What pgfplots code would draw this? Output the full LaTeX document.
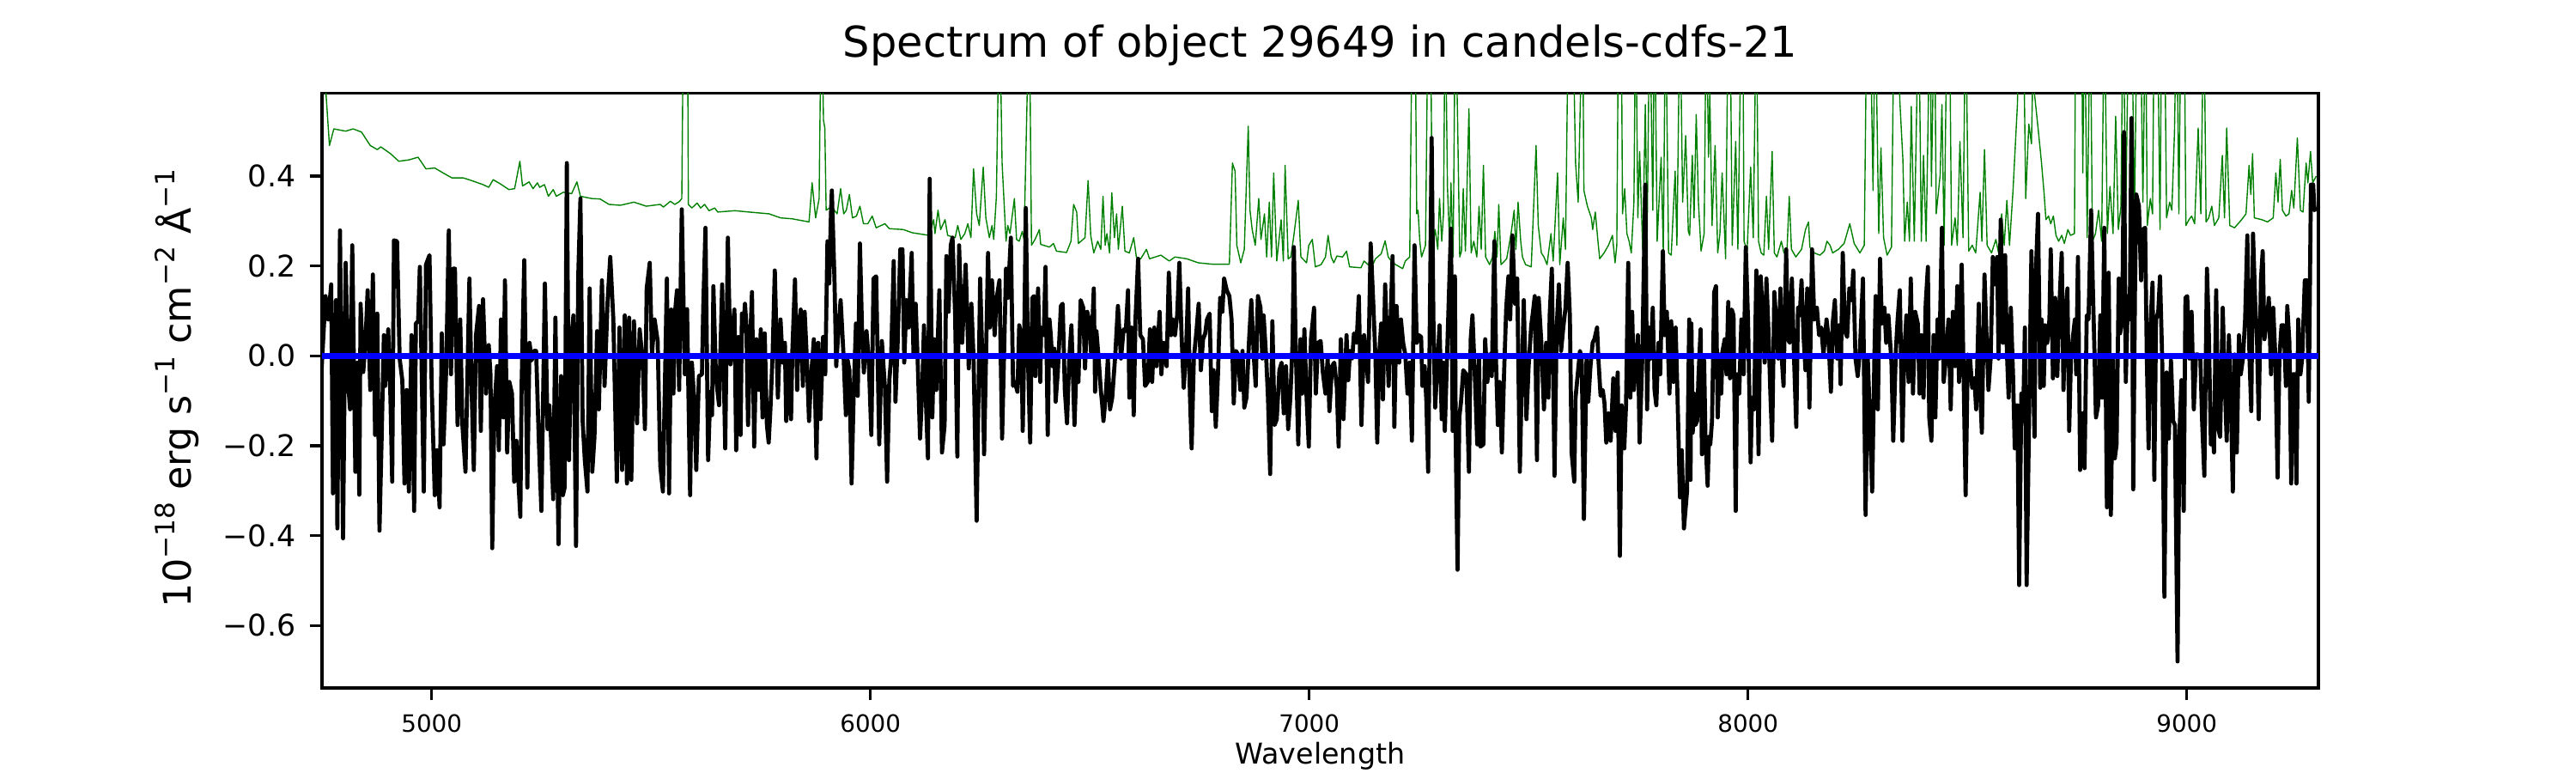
\documentclass[border=0pt]{standalone}
\usepackage{fontspec}
\setmainfont{DejaVu Sans}
\usepackage{pgfplots}
\pgfplotsset{compat=1.18}
\definecolor{mplgreen}{rgb}{0,0.5,0}
\newcommand\sups[1]{\raisebox{0.42em}{\fontsize{11.2}{12}\selectfont #1}}
\begin{document}
\begin{tikzpicture}
\path[use as bounding box] (-135pt,-35.64pt) rectangle (945pt,288.36pt);
\begin{axis}[
  at={(0,0)}, anchor=south west,
  scale only axis, width=837pt, height=249.4pt,
  xmin=4750, xmax=9300, ymin=-0.739, ymax=0.585,
  axis line style={line width=1.2pt},
  tick align=outside, xtick pos=left, ytick pos=left,
  major tick length=5.2pt,
  every tick/.style={black, line width=1.2pt},
  xtick={5000,6000,7000,8000,9000},
  xticklabels={5000,6000,7000,8000,9000},
  ytick={-0.6,-0.4,-0.2,0,0.2,0.4},
  yticklabels={−0.6,−0.4,−0.2,0.0,0.2,0.4},
  xticklabel style={font=\fontsize{10}{12}\selectfont, anchor=base, inner sep=0pt, yshift=-13.3pt},
  yticklabel style={font=\fontsize{12.5}{14}\selectfont, anchor=east, inner sep=0pt, xshift=-5.7pt},
  title={Spectrum of object 29649 in candels-cdfs-21},
  title style={font=\fontsize{17.8}{20}\selectfont, at={(axis description cs:0.5,1.0359)}, anchor=base, inner sep=0pt},
  xlabel={Wavelength},
  xlabel style={font=\fontsize{12}{14}\selectfont, at={(axis description cs:0.5,-0.1279)}, anchor=base, inner sep=0pt},
  ylabel={10\sups{−18} erg s\sups{−1} cm\sups{−2} Å\sups{−1}},
  ylabel style={font=\fontsize{16}{18}\selectfont, at={(axis description cs:-0.0658,0.504)}, anchor=base, inner sep=0pt},
  clip=true,
]
% green: error / sky spectrum
\addplot[mplgreen, line width=0.5pt, line join=round] coordinates {
(4750,0.65)(4758,0.60)(4767,0.468)(4777,0.505)(4804,0.500)(4821,0.505)(4840,0.498)(4860,0.468)(4876,0.459)(4884,0.465)(4906,0.450)(4925,0.433)(4948,0.436)(4969,0.442)(4987,0.416)(5007,0.418)(5026,0.407)(5046,0.396)(5072,0.396)(5091,0.390)(5117,0.381)(5130,0.375)(5140,0.392)(5156,0.383)(5176,0.370)(5189,0.372)(5201,0.433)(5207,0.378)(5222,0.387)(5231,0.372)(5241,0.385)(5246,0.375)(5257,0.381)(5266,0.355)(5277,0.370)(5284,0.355)(5300,0.364)(5319,0.361)(5331,0.387)(5339,0.355)(5365,0.350)(5384,0.349)(5404,0.337)(5430,0.335)(5461,0.342)(5489,0.333)(5521,0.337)
(5528,0.331)(5544,0.344)(5554,0.337)(5564,0.343)(5570,0.350)(5574,0.8)(5583,0.8)(5585,0.337)(5593,0.329)(5605,0.340)(5613,0.329)(5622,0.337)(5632,0.323)(5645,0.329)(5652,0.320)(5691,0.323)(5723,0.320)(5769,0.316)(5795,0.307)(5821,0.305)(5860,0.298)(5867,0.385)(5875,0.307)(5883,0.350)(5888,0.8)(5893,0.524)(5896,0.507)(5899,0.324)(5907,0.329)(5916,0.326)(5924,0.316)(5932,0.372)(5939,0.316)(5945,0.324)(5952,0.359)(5959,0.307)(5968,0.311)(5976,0.333)(5984,0.294)(5994,0.294)(6004,0.311)(6013,0.285)(6033,0.294)(6043,0.283)(6075,0.281)(6095,0.274)(6121,0.270)(6134,0.268)(6144,0.303)(6147,0.272)(6154,0.324)(6160,0.281)(6170,0.303)(6176,0.268)(6193,0.263)(6199,0.290)(6206,0.259)(6215,0.272)(6222,0.294)(6229,0.263)(6235,0.416)(6242,0.316)(6248,0.290)(6257,0.420)(6263,0.307)(6271,0.263)(6277,0.290)(6281,0.259)(6287,0.355)(6294,0.8)(6300,0.429)
(6309,0.255)(6313,0.290)(6318,0.272)(6328,0.350)(6333,0.259)(6339,0.255)(6346,0.277)(6350,0.259)(6362,0.8)(6367,0.246)(6375,0.259)(6385,0.281)(6388,0.248)(6408,0.242)(6417,0.250)(6424,0.233)(6447,0.230)(6457,0.255)(6463,0.337)(6470,0.320)(6474,0.250)(6489,0.263)(6496,0.390)(6502,0.268)(6509,0.229)(6518,0.255)(6525,0.237)(6530,0.355)(6535,0.246)(6539,0.272)(6545,0.229)(6550,0.363)(6556,0.263)(6561,0.316)(6565,0.237)(6574,0.333)(6580,0.233)(6590,0.229)(6600,0.263)(6606,0.220)(6616,0.216)(6629,0.237)(6636,0.216)(6662,0.224)(6681,0.211)(6694,0.220)(6721,0.216)(6747,0.207)(6779,0.204)(6818,0.204)(6825,0.429)(6831,0.411)(6835,0.246)(6844,0.207)(6852,0.237)(6861,0.511)(6865,0.324)(6870,0.281)(6877,0.246)(6885,0.350)(6890,0.259)(6898,0.316)(6903,0.220)(6909,0.342)(6914,0.220)(6919,0.407)(6926,0.211)(6936,0.303)(6941,0.211)(6945,0.424)(6952,0.216)(6958,0.220)(6965,0.268)(6975,0.346)(6981,0.220)(6994,0.207)(6999,0.246)(7007,0.259)(7014,0.198)(7027,0.203)(7037,0.220)(7043,0.268)(7050,0.220)(7056,0.207)(7063,0.222)(7076,0.220)(7085,0.233)
(7092,0.198)(7118,0.196)(7125,0.211)(7134,0.203)(7144,0.201)(7151,0.216)(7164,0.227)(7173,0.256)(7180,0.220)(7190,0.207)(7213,0.194)(7219,0.211)(7229,0.220)(7235,0.8)(7241,0.8)(7245,0.316)(7248,0.324)(7252,0.255)(7256,0.220)(7265,0.246)(7271,0.8)(7276,0.8)(7281,0.246)(7287,0.281)(7293,0.237)(7297,0.350)(7302,0.255)(7306,0.316)(7310,0.8)(7315,0.377)(7320,0.246)(7323,0.385)(7328,0.220)(7333,0.8)(7338,0.533)(7343,0.220)(7347,0.233)(7351,0.372)(7356,0.233)(7364,0.550)(7369,0.229)(7375,0.255)(7382,0.220)(7387,0.333)(7392,0.237)(7397,0.424)(7402,0.220)(7411,0.203)(7418,0.220)(7423,0.277)(7428,0.220)(7432,0.337)(7437,0.203)(7450,0.216)(7460,0.272)(7467,0.324)(7471,0.237)(7476,0.342)(7482,0.255)(7486,0.220)(7493,0.203)(7506,0.198)(7517,0.468)(7522,0.290)(7529,0.229)(7535,0.220)(7542,0.203)(7551,0.272)(7556,0.211)(7566,0.407)(7571,0.203)(7579,0.307)(7584,0.237)(7591,0.8)(7600,0.8)(7607,0.429)(7613,0.342)(7623,0.8)(7626,0.368)(7634,0.333)(7643,0.307)(7646,0.281)(7652,0.320)(7658,0.255)(7662,0.216)(7672,0.229)(7682,0.246)(7691,0.268)(7697,0.207)(7701,0.246)(7705,0.8)(7711,0.8)(7714,0.316)(7719,0.372)(7724,0.272)(7729,0.255)(7734,0.229)(7740,0.342)(7744,0.8)(7749,0.307)(7753,0.455)(7760,0.237)(7766,0.559)(7770,0.255)(7776,0.8)(7783,0.324)(7787,0.8)(7793,0.255)(7802,0.442)(7807,0.229)(7812,0.8)(7819,0.229)(7825,0.224)(7834,0.411)(7838,0.246)(7845,0.8)(7851,0.342)(7858,0.490)(7864,0.277)
(7867,0.268)(7873,0.446)(7877,0.307)(7882,0.537)(7887,0.342)(7893,0.233)(7900,0.272)(7905,0.8)(7910,0.442)(7913,0.585)(7918,0.290)(7925,0.468)(7931,0.229)(7936,0.272)(7941,0.407)(7949,0.216)(7955,0.8)(7959,0.8)(7964,0.246)(7972,0.477)(7977,0.237)(7985,0.8)(7988,0.8)(7991,0.255)(7998,0.233)(8006,0.420)(8012,0.263)(8019,0.8)(8024,0.255)(8030,0.229)(8036,0.224)(8042,0.355)(8047,0.237)(8055,0.455)(8060,0.229)(8066,0.220)(8076,0.255)(8082,0.229)(8089,0.237)(8094,0.355)(8099,0.237)(8109,0.220)(8122,0.237)(8131,0.281)(8138,0.298)(8141,0.242)(8151,0.229)(8164,0.224)(8174,0.233)(8180,0.255)(8187,0.246)(8193,0.229)(8206,0.237)(8219,0.250)(8232,0.294)(8242,0.250)(8255,0.229)(8265,0.246)(8271,0.8)(8278,0.8)(8285,0.368)(8290,0.8)(8298,0.272)(8303,0.463)(8309,0.263)(8317,0.224)(8327,0.242)(8333,0.8)(8342,0.8)(8346,0.568)(8353,0.437)(8357,0.255)(8363,0.342)(8368,0.255)(8372,0.555)(8379,0.255)(8389,0.8)(8395,0.255)(8400,0.446)(8406,0.255)(8415,0.8)(8418,0.377)(8425,0.8)(8429,0.316)(8438,0.403)(8442,0.559)(8447,0.246)(8454,0.8)(8459,0.8)(8464,0.246)(8472,0.307)(8477,0.246)(8483,0.477)(8490,0.263)(8496,0.8)(8503,0.233)(8511,0.246)(8519,0.229)(8529,0.364)(8533,0.255)(8539,0.459)(8545,0.246)(8555,0.229)(8565,0.259)(8571,0.229)(8578,0.316)(8584,0.246)(8590,0.346)(8596,0.246)(8604,0.368)(8614,0.559)(8620,0.8)(8627,0.8)(8633,0.350)(8640,0.516)(8646,0.472)
(8649,0.62)(8662,0.498)(8669,0.429)(8675,0.359)(8679,0.303)(8685,0.311)(8690,0.294)(8696,0.311)(8702,0.268)(8708,0.255)(8715,0.268)(8721,0.250)(8729,0.281)(8735,0.268)(8744,0.272)(8747,0.8)(8754,0.8)(8760,0.8)(8763,0.407)(8767,0.8)(8773,0.263)(8780,0.8)(8785,0.255)(8792,0.272)(8799,0.324)(8806,0.255)(8812,0.8)(8819,0.272)(8825,0.377)(8832,0.272)(8838,0.533)(8844,0.281)(8850,0.333)(8855,0.8)(8861,0.316)(8868,0.8)(8874,0.8)(8881,0.316)(8887,0.8)(8894,0.8)(8900,0.342)(8906,0.8)(8910,0.290)(8917,0.350)(8922,0.316)(8926,0.8)(8933,0.8)(8939,0.281)(8943,0.8)(8949,0.8)(8954,0.307)(8961,0.342)(8966,0.324)(8972,0.498)(8977,0.8)(8982,0.316)(8987,0.8)(8994,0.8)(8998,0.290)(9005,0.303)(9011,0.311)(9018,0.294)(9026,0.507)(9032,0.316)(9039,0.8)(9044,0.298)(9050,0.307)(9057,0.333)(9063,0.290)(9073,0.307)(9081,0.446)(9086,0.307)(9091,0.507)(9098,0.290)(9109,0.285)(9125,0.303)(9135,0.316)(9142,0.424)(9146,0.359)(9150,0.450)(9154,0.307)(9171,0.303)(9184,0.298)(9197,0.307)(9203,0.407)(9208,0.342)(9213,0.437)(9218,0.324)(9226,0.311)(9233,0.316)(9239,0.368)(9244,0.329)(9252,0.485)(9259,0.324)(9265,0.320)(9272,0.429)(9276,0.385)(9282,0.455)(9287,0.385)(9295,0.400)
};
% black: observed spectrum
\addplot[black, line width=1.7pt, line join=round] coordinates {
(4749,-0.032)(4758,0.133)(4764,0.081)(4771,0.159)(4775,-0.306)(4782,0.124)(4785,-0.384)(4791,0.279)(4798,-0.406)(4804,0.207)(4810,-0.067)(4814,-0.119)(4819,0.246)(4826,-0.258)(4831,-0.015)(4835,-0.309)(4838,0.116)(4844,-0.036)(4849,0.029)(4854,0.146)(4860,-0.076)(4866,0.181)(4871,-0.176)(4876,0.094)(4881,-0.389)(4886,-0.180)(4891,0.046)(4894,-0.067)(4901,0.059)(4906,-0.093)(4910,-0.280)(4914,0.257)(4921,0.255)(4927,-0.006)(4933,-0.054)(4938,-0.284)(4943,-0.076)(4948,-0.302)(4954,0.046)(4960,-0.345)(4964,0.072)(4969,0.077)(4973,0.198)(4977,-0.023)(4982,-0.302)(4987,0.203)(4995,0.224)(5000,-0.067)(5007,-0.310)(5012,-0.210)(5018,-0.337)(5023,0.050)(5027,-0.197)(5033,-0.032)(5039,0.279)(5044,-0.041)(5049,0.194)(5053,0.194)(5059,-0.154)(5065,0.081)(5070,-0.154)(5077,-0.258)(5086,0.172)(5091,-0.076)(5096,-0.254)(5101,0.046)(5108,0.111)(5112,-0.167)(5117,0.126)(5124,-0.084)(5130,0.024)(5134,-0.041)(5138,-0.428)(5143,-0.115)(5149,-0.023)(5153,-0.210)(5158,0.081)(5163,-0.137)(5167,0.168)(5172,-0.215)(5177,-0.058)(5183,-0.084)(5188,-0.280)(5193,-0.189)(5197,-0.267)(5202,-0.358)(5205,-0.063)(5211,0.213)(5218,-0.293)(5223,0.029)(5228,-0.010)(5233,0.011)(5238,0.011)(5244,-0.184)(5250,-0.345)(5254,-0.089)(5258,0.161)(5264,-0.163)(5268,-0.110)(5272,-0.184)(5277,-0.319)(5282,0.085)(5289,-0.419)(5295,-0.045)(5299,-0.310)(5303,-0.293)(5308,0.429)(5313,-0.232)(5318,0.037)(5323,0.090)(5329,-0.423)(5334,0.177)(5339,0.350)(5344,-0.145)(5349,-0.232)(5355,-0.302)(5360,0.150)(5366,-0.258)(5371,-0.180)(5377,0.055)(5381,-0.119)(5388,0.168)(5394,-0.067)(5401,0.124)(5407,0.220)(5414,0.081)(5422,-0.280)(5428,0.063)(5434,-0.254)(5440,0.090)(5445,-0.284)(5450,0.085)(5455,-0.276)(5461,0.077)(5468,-0.150)(5474,0.059)(5481,-0.015)(5486,-0.163)(5490,0.150)(5497,0.207)(5502,0.003)(5508,0.081)(5515,0.033)(5521,-0.245)
(5527,-0.302)(5531,-0.093)(5536,0.172)(5541,-0.306)(5546,0.103)(5551,-0.084)(5554,0.090)(5559,0.146)(5564,-0.076)(5570,0.326)(5577,-0.041)(5582,0.104)(5589,-0.310)(5593,-0.015)(5598,-0.093)(5603,-0.254)(5609,-0.045)(5616,-0.041)(5619,0.111)(5624,0.285)(5630,-0.232)(5635,-0.080)(5639,-0.132)(5642,0.155)(5648,-0.050)(5655,-0.110)(5662,0.159)(5669,-0.206)(5675,0.263)(5681,-0.019)(5684,0.046)(5690,0.103)(5694,-0.210)(5699,0.042)(5704,-0.176)(5707,0.094)(5710,0.055)(5714,0.116)(5717,0.072)(5721,-0.154)(5727,0.063)(5730,0.142)(5735,-0.202)(5740,0.037)(5746,-0.076)(5750,0.059)(5754,-0.137)(5759,0.050)(5764,-0.154)(5768,-0.193)(5772,-0.119)(5777,0.003)(5782,0.190)(5789,-0.093)(5795,0.081)(5800,-0.015)(5805,0.029)(5808,-0.145)(5815,-0.006)(5819,-0.141)(5822,0.011)(5828,0.170)(5833,-0.076)(5836,0.050)(5841,0.103)(5846,-0.067)(5850,0.098)(5855,-0.006)(5860,-0.145)(5865,-0.041)(5871,0.037)(5877,-0.228)(5881,0.029)(5886,-0.141)(5892,0.042)(5897,-0.041)(5902,0.255)(5906,0.161)(5910,0.316)(5912,0.368)(5918,0.168)(5922,-0.023)(5927,0.059)(5932,0.124)(5939,-0.006)(5944,-0.132)(5948,-0.010)(5952,-0.032)(5957,-0.284)(5962,-0.076)(5967,0.072)(5971,-0.089)(5976,0.250)(5981,0.050)(5985,-0.037)(5991,0.055)(5996,-0.006)(6002,-0.176)(6007,0.172)(6013,0.177)(6020,-0.197)(6026,0.033)(6033,-0.071)(6038,-0.280)(6043,-0.054)(6047,-0.006)(6053,0.211)(6057,-0.102)(6062,0.029)(6068,0.237)(6073,0.237)(6077,-0.015)(6082,0.124)(6087,0.063)(6094,0.229)(6098,0.003)(6103,0.116)(6108,-0.023)(6113,-0.184)(6118,-0.076)(6122,0.068)(6126,-0.089)(6131,-0.228)(6135,0.394)(6141,-0.137)(6145,0.037)(6150,-0.076)(6157,0.146)(6163,-0.215)(6169,-0.154)(6173,0.222)(6178,0.098)(6183,0.246)(6187,0.263)(6193,0.090)(6198,-0.224)(6202,0.246)(6209,0.029)(6217,0.203)(6224,-0.028)(6230,0.116)(6235,-0.006)(6242,-0.367)(6250,0.172)(6255,-0.006)(6259,-0.219)(6268,0.229)(6272,0.063)(6277,0.168)(6283,0.046)(6287,0.124)(6294,0.168)(6300,-0.184)
(6309,0.194)(6313,0.129)(6320,0.263)(6325,-0.067)(6329,-0.058)(6335,-0.080)(6339,0.068)(6344,0.046)(6347,-0.167)(6350,-0.006)(6354,0.329)(6359,-0.006)(6364,-0.193)(6369,0.129)(6373,0.133)(6376,-0.045)(6382,0.150)(6387,-0.058)(6389,0.063)(6395,0.046)(6399,0.198)(6404,-0.176)(6408,0.081)(6411,0.046)(6415,-0.023)(6419,0.016)(6422,-0.102)(6427,-0.036)(6434,0.111)(6438,0.116)(6443,-0.076)(6448,-0.150)(6453,-0.006)(6458,0.068)(6465,-0.154)(6470,-0.006)(6474,-0.058)(6479,0.124)(6485,0.107)(6489,-0.028)(6494,0.098)(6499,0.077)(6503,0.003)(6509,0.150)(6512,-0.080)(6515,0.055)(6520,-0.006)(6525,-0.076)(6528,-0.106)(6531,-0.145)(6536,-0.093)(6541,-0.006)(6546,-0.119)(6551,-0.093)(6558,0.003)(6564,0.111)(6571,-0.006)(6577,0.059)(6582,0.055)(6587,0.146)(6590,-0.093)(6595,0.063)(6600,-0.132)(6604,0.081)(6610,0.216)(6615,0.046)(6621,0.037)(6626,-0.067)(6632,-0.058)(6637,0.059)(6642,-0.058)(6647,0.063)(6652,-0.023)(6659,0.098)(6663,-0.041)(6668,0.029)(6675,-0.023)(6680,0.185)(6685,0.046)(6689,0.081)(6694,0.046)(6699,0.090)(6704,0.207)(6709,0.046)(6714,-0.071)(6719,0.003)(6724,0.150)(6728,-0.084)(6732,-0.206)(6737,-0.006)(6743,0.055)(6748,0.116)(6753,-0.032)(6758,0.037)(6763,0.050)(6767,0.081)(6773,0.094)(6778,-0.123)(6782,-0.032)(6787,-0.158)(6792,-0.041)(6797,0.129)(6802,0.098)(6806,0.172)(6812,0.146)(6818,0.133)(6823,0.081)(6828,-0.106)(6833,0.011)(6838,0.003)(6843,-0.076)(6848,0.011)(6852,-0.115)(6857,-0.093)(6863,0.037)(6868,0.124)(6874,-0.006)(6878,-0.067)(6883,0.133)(6889,0.107)(6893,-0.006)(6896,0.090)(6902,-0.006)(6906,-0.093)(6911,-0.263)(6916,0.077)(6921,-0.154)(6926,-0.141)(6932,-0.032)(6937,-0.015)(6942,-0.128)(6947,-0.023)(6952,-0.163)(6957,-0.093)(6962,0.029)(6965,0.242)(6969,0.029)(6975,-0.197)(6980,0.037)(6984,-0.084)(6989,0.059)(6994,-0.093)(6999,-0.202)(7004,0.037)(7011,0.107)(7015,-0.084)(7020,0.029)(7026,0.033)(7031,-0.036)(7037,-0.084)(7042,-0.006)(7046,-0.123)(7052,-0.023)(7057,-0.015)(7063,-0.071)(7067,-0.202)(7072,0.037)(7078,-0.141)(7085,0.046)
(7089,-0.054)(7093,0.011)(7098,-0.006)(7102,0.050)(7108,0.029)(7113,0.133)(7119,-0.154)(7125,0.046)(7130,-0.006)(7134,-0.058)(7140,0.250)(7146,0.116)(7151,-0.006)(7155,-0.193)(7160,0.011)(7164,0.072)(7168,-0.097)(7173,0.159)(7177,0.046)(7181,-0.067)(7184,0.037)(7190,0.222)(7194,-0.158)(7199,0.111)(7205,-0.015)(7209,0.081)(7214,0.029)(7219,0.003)(7224,-0.084)(7229,-0.015)(7234,-0.189)(7240,0.246)(7245,0.029)(7250,0.046)(7255,0.042)(7258,-0.067)(7263,-0.023)(7267,-0.102)(7271,-0.258)(7274,-0.006)(7279,0.485)(7283,0.081)(7287,-0.115)(7292,-0.023)(7297,0.068)(7302,-0.141)(7305,-0.015)(7309,-0.167)(7314,-0.006)(7318,0.124)(7323,0.283)(7327,-0.167)(7332,0.177)(7334,-0.197)(7338,-0.476)(7342,-0.137)(7346,-0.102)(7351,-0.032)(7358,-0.041)(7364,-0.258)(7368,0.037)(7372,0.090)(7377,-0.032)(7383,-0.197)(7387,-0.006)(7390,-0.202)(7397,-0.197)(7401,0.037)(7406,-0.058)(7411,0.003)(7416,-0.045)(7422,0.255)(7426,-0.023)(7430,-0.154)(7434,-0.058)(7439,-0.215)(7444,-0.041)(7449,0.107)(7454,0.177)(7458,0.081)(7463,0.268)(7469,0.116)(7474,0.172)(7480,-0.258)(7484,-0.076)(7489,0.124)(7495,-0.141)(7500,-0.023)(7506,0.068)(7510,0.098)(7514,0.133)(7519,-0.232)(7523,0.129)(7529,0.029)(7535,-0.119)(7540,0.029)(7545,-0.093)(7548,0.090)(7553,0.194)(7559,-0.267)(7564,0.063)(7569,0.159)(7574,0.011)(7579,0.063)(7584,0.107)(7589,0.207)(7594,0.090)(7598,-0.215)(7604,-0.280)(7607,-0.093)(7612,-0.041)(7617,0.011)(7621,-0.006)(7626,-0.363)(7632,-0.006)(7636,-0.102)(7641,-0.023)(7646,0.029)(7650,0.037)(7656,0.063)(7659,-0.006)(7664,-0.089)(7669,-0.076)(7673,-0.106)(7677,-0.193)(7682,-0.128)(7687,-0.189)(7693,-0.050)(7698,-0.167)(7703,-0.037)(7708,-0.445)(7712,-0.110)(7718,-0.206)(7722,-0.110)(7727,0.207)(7732,-0.093)(7736,0.098)(7740,-0.076)(7745,-0.006)(7749,0.046)(7753,-0.193)(7759,-0.006)(7763,0.220)(7766,0.381)(7770,-0.119)(7774,0.063)(7778,-0.006)(7783,0.107)(7787,-0.076)(7791,-0.110)(7796,0.029)(7800,-0.041)(7806,0.233)(7810,0.046)(7815,0.098)(7821,-0.084)(7825,0.077)(7830,-0.058)(7835,0.063)(7839,-0.076)(7845,-0.315)(7849,-0.210)(7854,-0.384)(7861,-0.302)(7866,0.081)
(7869,-0.276)(7871,0.072)(7874,-0.171)(7877,-0.084)(7880,-0.154)(7884,-0.145)(7887,-0.050)(7892,0.059)(7895,-0.219)(7900,-0.010)(7903,-0.180)(7908,-0.289)(7911,-0.180)(7914,-0.197)(7918,-0.145)(7923,0.142)(7927,0.155)(7931,-0.137)(7936,0.003)(7939,-0.084)(7942,0.011)(7947,0.037)(7951,-0.041)(7955,0.120)(7959,-0.050)(7963,0.103)(7967,0.090)(7972,-0.345)(7975,-0.041)(7980,-0.084)(7985,0.081)(7990,-0.041)(7995,0.242)(8000,0.081)(8006,-0.237)(8009,-0.093)(8014,-0.119)(8019,0.190)(8024,-0.219)(8029,0.177)(8034,0.081)(8038,-0.015)(8042,0.172)(8047,0.046)(8051,-0.084)(8055,-0.189)(8060,0.142)(8064,0.081)(8069,-0.006)(8074,0.150)(8077,-0.006)(8081,-0.067)(8087,0.237)(8091,0.037)(8095,0.029)(8100,0.172)(8105,-0.006)(8110,-0.158)(8114,0.107)(8118,0.090)(8122,0.168)(8127,0.037)(8131,-0.032)(8135,0.150)(8140,-0.115)(8146,0.237)(8151,0.081)(8157,0.107)(8162,0.046)(8167,0.063)(8172,0.003)(8179,0.081)(8183,0.046)(8189,-0.080)(8193,0.072)(8198,0.124)(8203,-0.006)(8208,0.068)(8211,-0.063)(8216,0.229)(8221,0.055)(8226,0.042)(8231,0.150)(8236,0.124)(8240,0.190)(8245,-0.006)(8250,-0.045)(8255,0.011)(8262,0.172)(8268,-0.354)(8273,-0.006)(8278,-0.145)(8283,-0.302)(8288,-0.006)(8291,0.133)(8296,-0.119)(8301,0.216)(8305,0.072)(8311,0.107)(8315,0.029)(8320,0.090)(8327,-0.015)(8331,-0.189)(8337,0.011)(8341,0.081)(8346,0.146)(8352,-0.189)(8356,0.003)(8361,0.090)(8366,-0.058)(8371,0.172)(8376,-0.084)(8381,0.098)(8387,0.072)(8391,-0.084)(8395,0.046)(8400,-0.093)(8405,0.116)(8410,0.198)(8413,-0.137)(8418,-0.189)(8423,0.046)(8427,-0.137)(8432,0.081)(8436,-0.006)(8442,0.285)(8446,-0.058)(8451,-0.006)(8457,0.081)(8462,-0.119)(8467,0.098)(8472,-0.023)(8477,0.155)(8481,-0.058)(8487,0.203)(8491,-0.023)(8496,-0.310)(8501,0.003)(8506,-0.006)(8511,-0.071)(8516,-0.050)(8520,-0.119)(8526,0.116)(8529,-0.076)(8533,-0.171)(8539,0.181)(8543,0.063)(8548,-0.076)(8553,-0.006)(8558,0.220)(8563,0.159)(8568,0.220)(8571,-0.006)(8576,0.303)(8581,0.029)(8586,0.224)(8590,0.011)(8594,-0.093)(8599,0.107)(8604,-0.041)(8608,-0.206)(8614,-0.110)(8618,-0.510)(8623,-0.084)(8627,-0.145)(8631,0.063)(8635,-0.510)(8640,-0.180)(8646,0.233)(8649,-0.006)
(8653,-0.180)(8656,0.185)(8661,0.316)(8666,-0.071)(8669,0.081)(8674,-0.067)(8677,0.068)(8682,0.029)(8687,0.081)(8690,0.237)(8695,-0.050)(8700,0.129)(8705,-0.045)(8709,0.098)(8715,0.229)(8719,-0.076)(8723,0.081)(8728,0.150)(8732,-0.167)(8736,-0.006)(8741,0.046)(8745,0.081)(8748,-0.041)(8752,0.220)(8757,-0.254)(8762,-0.128)(8767,-0.250)(8772,0.090)(8776,0.081)(8782,0.324)(8786,0.150)(8790,-0.006)(8793,-0.137)(8798,-0.110)(8803,0.090)(8807,-0.093)(8812,0.285)(8818,-0.337)(8822,0.185)(8827,-0.354)(8832,-0.006)(8836,-0.228)(8840,-0.197)(8845,0.172)(8848,0.050)(8853,0.081)(8857,0.498)(8861,-0.058)(8866,0.133)(8870,0.081)(8874,0.529)(8878,-0.297)(8882,0.150)(8885,0.359)(8891,0.333)(8896,0.168)(8900,0.281)(8905,0.285)(8909,-0.006)(8913,-0.206)(8917,0.063)(8922,0.163)(8926,-0.276)(8930,0.081)(8935,0.098)(8939,0.177)(8944,-0.006)(8949,-0.536)(8954,-0.037)(8959,-0.184)(8964,-0.010)(8969,-0.145)(8973,-0.154)(8979,-0.680)(8983,-0.180)(8988,-0.054)(8993,-0.345)(8997,0.129)(9001,0.133)(9006,-0.006)(9011,0.098)(9016,-0.119)(9021,0.003)(9026,0.003)(9031,-0.006)(9035,-0.145)(9040,-0.267)(9046,0.194)(9050,0.063)(9055,-0.197)(9059,-0.163)(9062,-0.215)(9067,0.146)(9072,-0.163)(9076,-0.180)(9082,0.107)(9086,-0.041)(9091,-0.189)(9096,0.046)(9100,-0.076)(9105,-0.302)(9109,0.003)(9114,-0.215)(9119,0.046)(9123,-0.041)(9128,-0.006)(9133,0.081)(9138,0.268)(9143,-0.006)(9147,-0.123)(9151,0.272)(9156,0.116)(9160,0.037)(9164,-0.141)(9169,0.168)(9173,0.233)(9177,0.037)(9183,0.081)(9187,0.129)(9192,-0.041)(9197,0.107)(9202,-0.006)(9207,-0.271)(9211,-0.006)(9216,0.068)(9221,0.068)(9226,-0.067)(9229,0.111)(9234,0.029)(9238,-0.284)(9242,-0.041)(9246,-0.041)(9250,-0.284)(9254,0.081)(9259,-0.041)(9263,-0.006)(9269,0.168)(9274,0.168)(9278,-0.102)(9283,0.381)(9288,0.381)(9291,0.324)(9296,0.33)
};
% blue: model (zero), drawn on top
\addplot[blue, line width=2.3pt] coordinates {(4750,0)(9300,0)};
\end{axis}
\end{tikzpicture}
\end{document}
